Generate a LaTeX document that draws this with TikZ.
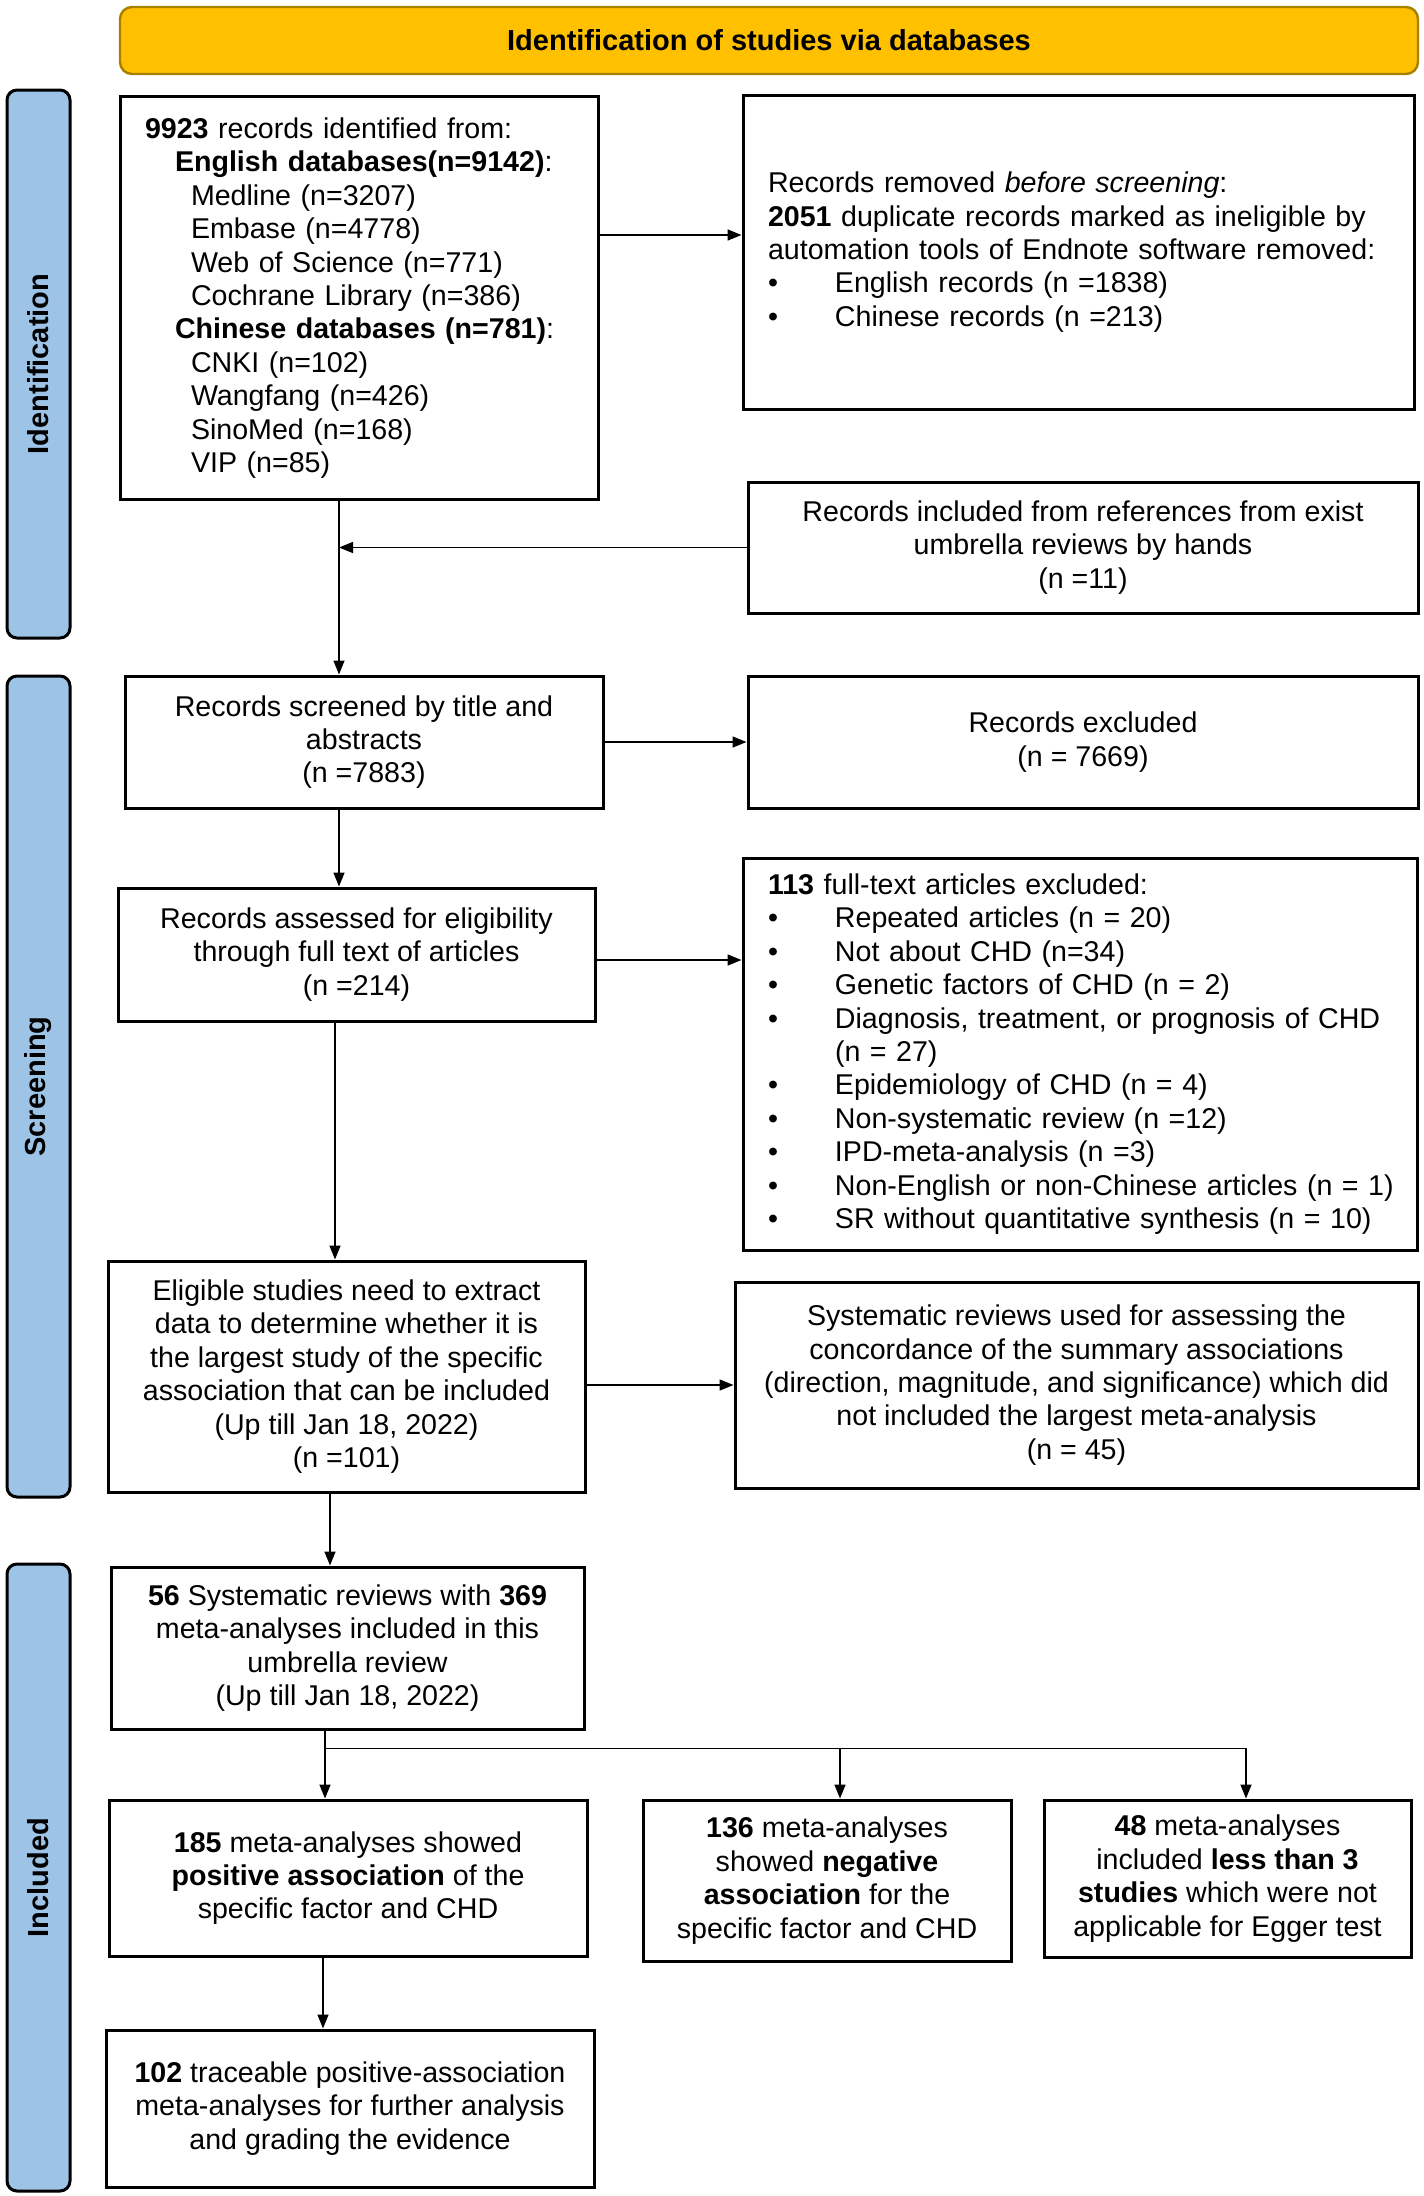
\documentclass[tikz,border=0pt]{standalone}
\usepackage{fontspec}
\setmainfont{Liberation Sans}
\usetikzlibrary{positioning,arrows.meta}

\definecolor{headgold}{HTML}{FFC000}
\definecolor{headline}{HTML}{A88000}
\definecolor{sideblue}{HTML}{9DC3E6}

\newcommand{\bul}[1]{\mbox{\makebox[33.5pt][l]{\textbullet}#1}}

\begin{document}
\begin{tikzpicture}[
    x=0.5pt, y=-0.5pt,
    box/.style={
        draw,
        line width=1.5pt,
        font=\fontsize{14.3}{16.7}\selectfont,
        align=center,
        inner sep=0pt
        },
    lbox/.style={
        box,
        align=left,
        inner xsep=12.5pt
        },
    side/.style={
        draw,
        fill=sideblue,
        rounded corners=5pt,
        line width=1.5pt,
        rotate=90,
        minimum height=31.5pt,
        font=\fontsize{14.5}{16.7}\selectfont\bfseries
        },
    arr/.style={-{Triangle[length=7pt,width=5.5pt]}, line width=0.75pt}
]
\useasboundingbox (0,0) rectangle (1424,2196);

% header and phase bars
\node[draw=headline, fill=headgold, rounded corners=6pt, line width=1.2pt,
    minimum width=649pt, minimum height=33.5pt,
    font=\fontsize{14.5}{16.7}\selectfont\bfseries] (head) at (769,40.5) {Identification of studies via databases};
\node[side, minimum width=274pt] (sideid) at (38.5,364) {Identification};
\node[side, minimum width=410.5pt] (sidescr) at (38.5,1086.5) {Screening};
\node[side, minimum width=313.5pt] (sideinc) at (38.5,1877.5) {Included};

% identification
\node[lbox, text width=214pt, minimum width=239pt, minimum height=201.5pt] (ident) at (359,298) {%
    \textbf{9923} records identified from:\\
    \hspace*{15pt}\textbf{English databases(n=9142)}:\\
    \hspace*{23pt}Medline (n=3207)\\
    \hspace*{23pt}Embase (n=4778)\\
    \hspace*{23pt}Web of Science (n=771)\\
    \hspace*{23pt}Cochrane Library (n=386)\\
    \hspace*{15pt}\textbf{Chinese databases (n=781)}:\\
    \hspace*{23pt}CNKI (n=102)\\
    \hspace*{23pt}Wangfang (n=426)\\
    \hspace*{23pt}SinoMed (n=168)\\
    \hspace*{23pt}VIP (n=85)};
\node[lbox, text width=310.5pt, minimum width=335.5pt, minimum height=157pt] (removed) at (1078.5,252) {%
    Records removed \textit{before screening}:\\
    \textbf{2051} duplicate records marked as ineligible by\\
    \mbox{automation tools of Endnote software removed:}\\
    \bul{English records (n =1838)}\\
    \bul{Chinese records (n =213)}};
\node[box, minimum width=335pt, minimum height=65.5pt] (refs) at (1083,547.5) {%
    Records included from references from exist\\umbrella reviews by hands\\(n =11)};

% screening
\node[box, minimum width=239pt, minimum height=66pt] (screened) at (364,742) {%
    Records screened by title and\\abstracts\\(n =7883)};
\node[box, minimum width=335pt, minimum height=66pt] (excluded) at (1083,742) {%
    Records excluded\\(n = 7669)};
\node[box, minimum width=238.5pt, minimum height=66.5pt] (assessed) at (356.5,954.5) {%
    Records assessed for eligibility\\through full text of articles\\(n =214)};
\node[lbox, text width=312pt, minimum width=337pt, minimum height=196pt] (fulltext) at (1080,1054) {%
    \textbf{113} full-text articles excluded:\\
    \bul{Repeated articles (n = 20)}\\
    \bul{Not about CHD (n=34)}\\
    \bul{Genetic factors of CHD (n = 2)}\\
    \bul{Diagnosis, treatment, or prognosis of CHD}\\
    \hspace*{33.5pt}(n = 27)\\
    \bul{Epidemiology of CHD (n = 4)}\\
    \bul{Non-systematic review (n =12)}\\
    \bul{IPD-meta-analysis (n =3)}\\
    \bul{Non-English or non-Chinese articles (n = 1)}\\
    \bul{SR without quantitative synthesis (n = 10)}};
\node[box, minimum width=238.5pt, minimum height=115.5pt] (eligible) at (346.5,1376.5) {%
    Eligible studies need to extract\\data to determine whether it is\\the largest study of the specific\\association that can be included\\(Up till Jan 18, 2022)\\(n =101)};
\node[box, minimum width=341.5pt, minimum height=103pt] (sr45) at (1076.5,1385) {%
    Systematic reviews used for assessing the\\concordance of the summary associations\\(direction, magnitude, and significance) which did\\not included the largest meta-analysis\\(n = 45)};

% included
\node[box, minimum width=236.5pt, minimum height=81pt] (incl) at (347.5,1648) {%
    \textbf{56} Systematic reviews with \textbf{369}\\meta-analyses included in this\\umbrella review\\(Up till Jan 18, 2022)};
\node[box, minimum width=239pt, minimum height=78pt] (pos) at (348,1878) {%
    \textbf{185} meta-analyses showed\\\textbf{positive association} of the\\specific factor and CHD};
\node[box, minimum width=184pt, minimum height=80.5pt] (neg) at (827,1880.5) {%
    \textbf{136} meta-analyses\\showed \textbf{negative}\\\textbf{association} for the\\specific factor and CHD};
\node[box, minimum width=183.5pt, minimum height=78.5pt] (less) at (1227.5,1878.5) {%
    \textbf{48} meta-analyses\\included \textbf{less than 3}\\\textbf{studies} which were not\\applicable for Egger test};
\node[box, minimum width=244pt, minimum height=78.5pt] (trace) at (350,2108.5) {%
    \textbf{102} traceable positive-association\\meta-analyses for further analysis\\and grading the evidence};

% arrows
\draw[arr] ([yshift=31.5pt]ident.east) coordinate (r1) -- (r1 -| removed.west);
\draw[arr] ([xshift=-10pt]ident.south) coordinate (d1) -- (d1 |- screened.north);
\draw[arr] (refs.west) -- (refs.west -| d1);
\draw[arr] (screened.east) -- (screened.east -| excluded.west);
\draw[arr] ([xshift=-12.5pt]screened.south) coordinate (d2) -- (d2 |- assessed.north);
\draw[arr] ([yshift=-2.75pt]assessed.east) coordinate (r3) -- (r3 -| fulltext.west);
\draw[arr] ([xshift=-10.75pt]assessed.south) coordinate (d3) -- (d3 |- eligible.north);
\draw[arr] (eligible.east |- sr45.west) -- (sr45.west);
\draw[arr] ([xshift=-8.25pt]eligible.south) coordinate (d4) -- (d4 |- incl.north);
\draw[arr] ([xshift=-11.25pt]incl.south) coordinate (d5) -- (d5 |- pos.north);
\coordinate (bus) at ([xshift=-11.25pt,yshift=-9pt]incl.south);
\draw[arr] (bus) -| ([xshift=9.25pt]less.north);
\draw[arr] ([xshift=6.5pt]neg.north |- bus) -- ([xshift=6.5pt]neg.north);
\draw[arr] ([xshift=-12.5pt]pos.south) coordinate (d6) -- (d6 |- trace.north);

\end{tikzpicture}
\end{document}
